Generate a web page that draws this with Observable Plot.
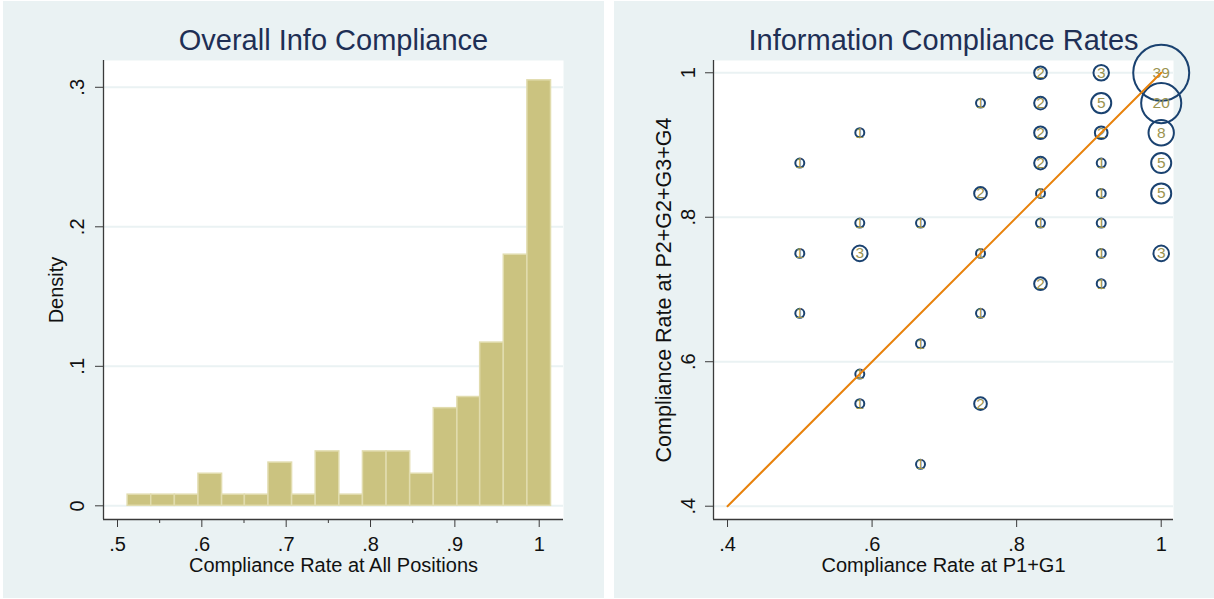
<!DOCTYPE html>
<html>
<head>
<meta charset="utf-8">
<script src="https://cdn.jsdelivr.net/npm/d3@7"></script>
<script src="https://cdn.jsdelivr.net/npm/@observablehq/plot@0.6"></script>
<style>
  html, body { margin: 0; padding: 0; background: #ffffff; }
  #wrap { position: relative; width: 1214px; height: 599px; overflow: hidden; background: #ffffff; }
  #left { position: absolute; left: 3px; top: 1px; }
  #right { position: absolute; left: 614px; top: 1px; }
  svg { display: block; }
</style>
</head>
<body>
<div id="wrap"><div id="left"></div><div id="right"></div></div>
<script>
// ---------- Left panel: histogram ----------
const histTitle = "Overall Info Compliance";
const histXLabel = "Compliance Rate at All Positions";
const histYLabel = "Density";
const binEdges = [0.512, 0.540, 0.568, 0.596, 0.624, 0.651, 0.679, 0.707, 0.735, 0.763,
                  0.791, 0.819, 0.847, 0.875, 0.903, 0.930, 0.958, 0.986, 1.014];
const density = [0.008, 0.008, 0.008, 0.023, 0.008, 0.008, 0.031, 0.008, 0.039, 0.008,
                 0.039, 0.039, 0.023, 0.070, 0.078, 0.117, 0.180, 0.305];
const histXTicks = [0.5, 0.6, 0.7, 0.8, 0.9, 1];
const histXMinor = [0.55, 0.65, 0.75, 0.85, 0.95];
const histYTicks = [0, 0.1, 0.2, 0.3];

// ---------- Right panel: weighted scatter ----------
const scatTitle = "Information Compliance Rates";
const scatXLabel = "Compliance Rate at P1+G1";
const scatYLabel = "Compliance Rate at P2+G2+G3+G4";
const p1g1 = [0.5, 0.5, 0.5,
              0.583, 0.583, 0.583, 0.583, 0.583,
              0.667, 0.667, 0.667,
              0.75, 0.75, 0.75, 0.75, 0.75,
              0.833, 0.833, 0.833, 0.833, 0.833, 0.833, 0.833,
              0.917, 0.917, 0.917, 0.917, 0.917, 0.917, 0.917, 0.917,
              1, 1, 1, 1, 1, 1];
const p2g234 = [0.875, 0.75, 0.667,
                0.917, 0.792, 0.75, 0.583, 0.542,
                0.792, 0.625, 0.458,
                0.958, 0.833, 0.75, 0.667, 0.542,
                1, 0.958, 0.917, 0.875, 0.833, 0.792, 0.708,
                1, 0.958, 0.917, 0.875, 0.833, 0.792, 0.75, 0.708,
                1, 0.958, 0.917, 0.875, 0.833, 0.75];
const freq = [1, 1, 1,
              1, 1, 3, 1, 1,
              1, 1, 1,
              1, 2, 1, 1, 2,
              2, 2, 2, 2, 1, 1, 2,
              3, 5, 2, 1, 1, 1, 1, 1,
              39, 20, 8, 5, 5, 3];
const diagX = [0.4, 1];
const diagY = [0.4, 1];
const scatXTicks = [0.4, 0.6, 0.8, 1];
const scatYTicks = [0.4, 0.6, 0.8, 1];

// ---------- helpers ----------
const stataFmt = d => String(+d.toFixed(2)).replace(/^0\./, ".");
const FONT = "'Liberation Sans', Arial, sans-serif";
const BG = "#eaf2f3";
const AXIS = "#3a3a3a";
const TITLE_COLOR = "#1e2f55";
const TICK_FS = 20, LABEL_FS = 20, TITLE_FS = 29;

const bins = density.map((d, i) => ({x1: binEdges[i], x2: binEdges[i + 1], d}));

const histXDomain = [0.4834, 1.0288];
const histYDomain = [-0.0098, 0.3192];

const left = Plot.plot({
  width: 601, height: 597,
  marginLeft: 100, marginRight: 41, marginTop: 59, marginBottom: 79,
  style: {background: BG, fontFamily: FONT, color: "#111"},
  x: {domain: histXDomain},
  y: {domain: histYDomain},
  marks: [
    Plot.frame({fill: "white", stroke: null}),
    Plot.gridY(histYTicks, {stroke: BG, strokeOpacity: 1, strokeWidth: 2}),
    Plot.rectY(bins, {x1: "x1", x2: "x2", y: "d", fill: "#cbc380", stroke: "#e1dcae", strokeWidth: 1.5, inset: 0}),
    Plot.ruleX([histXDomain[0]], {stroke: AXIS, strokeWidth: 1.3}),
    Plot.ruleY([histYDomain[0]], {stroke: AXIS, strokeWidth: 1.3}),
    Plot.axisY(histYTicks, {tickSize: 8, stroke: AXIS, tickFormat: () => "", label: null}),
    Plot.axisX(histXTicks, {tickSize: 8, stroke: AXIS, tickFormat: () => "", label: null}),
    Plot.axisX(histXMinor, {tickSize: 4, stroke: AXIS, tickFormat: () => "", label: null}),
    Plot.text(histYTicks, {y: d => d, text: stataFmt, frameAnchor: "left", dx: -26, rotate: -90,
      textAnchor: "middle", lineAnchor: "middle", fontSize: TICK_FS, fill: "#111"}),
    Plot.text(histXTicks, {x: d => d, text: stataFmt, frameAnchor: "bottom", dy: 25,
      textAnchor: "middle", lineAnchor: "middle", fontSize: TICK_FS, fill: "#111"}),
    Plot.text([histXLabel], {text: d => d, frameAnchor: "bottom", dy: 46, textAnchor: "middle", lineAnchor: "middle", fontSize: LABEL_FS, fill: "#111"}),
    Plot.text([histYLabel], {text: d => d, frameAnchor: "left", dx: -47, rotate: -90, textAnchor: "middle", lineAnchor: "middle", fontSize: LABEL_FS, fill: "#111"}),
    Plot.text([histTitle], {text: d => d, frameAnchor: "top", dy: -20, textAnchor: "middle", lineAnchor: "middle", fontSize: TITLE_FS, fill: TITLE_COLOR})
  ]
});
document.getElementById("left").appendChild(left);

const pts = freq.map((n, i) => ({x: p1g1[i], y: p2g234[i], n}));
const diag = diagX.map((x, i) => ({x, y: diagY[i]}));

const scatXDomain = [0.3806, 1.017];
const scatYDomain = [0.3816, 1.017];

const right = Plot.plot({
  width: 600, height: 597,
  marginLeft: 99, marginRight: 41, marginTop: 59, marginBottom: 79,
  style: {background: BG, fontFamily: FONT, color: "#111"},
  x: {domain: scatXDomain},
  y: {domain: scatYDomain},
  r: {domain: [0, 39], range: [0, 28]},
  marks: [
    Plot.frame({fill: "white", stroke: null}),
    Plot.gridY(scatYTicks, {stroke: BG, strokeOpacity: 1, strokeWidth: 2}),
    Plot.dot(pts, {x: "x", y: "y", r: "n", stroke: "#1a4270", strokeWidth: 2, fill: "none"}),
    Plot.text(pts, {x: "x", y: "y", text: "n", fill: "#9b9350", fontSize: 15.5, lineAnchor: "middle"}),
    Plot.line(diag, {x: "x", y: "y", stroke: "#e8820c", strokeWidth: 2}),
    Plot.ruleX([scatXDomain[0]], {stroke: AXIS, strokeWidth: 1.3}),
    Plot.ruleY([scatYDomain[0]], {stroke: AXIS, strokeWidth: 1.3}),
    Plot.axisY(scatYTicks, {tickSize: 8, stroke: AXIS, tickFormat: () => "", label: null}),
    Plot.axisX(scatXTicks, {tickSize: 8, stroke: AXIS, tickFormat: () => "", label: null}),
    Plot.text(scatYTicks, {y: d => d, text: stataFmt, frameAnchor: "left", dx: -25, rotate: -90,
      textAnchor: "middle", lineAnchor: "middle", fontSize: TICK_FS, fill: "#111"}),
    Plot.text(scatXTicks, {x: d => d, text: stataFmt, frameAnchor: "bottom", dy: 25,
      textAnchor: "middle", lineAnchor: "middle", fontSize: TICK_FS, fill: "#111"}),
    Plot.text([scatXLabel], {text: d => d, frameAnchor: "bottom", dy: 46, textAnchor: "middle", lineAnchor: "middle", fontSize: LABEL_FS, fill: "#111"}),
    Plot.text([scatYLabel], {text: d => d, frameAnchor: "left", dx: -49, rotate: -90, textAnchor: "middle", lineAnchor: "middle", fontSize: 21.5, fill: "#111"}),
    Plot.text([scatTitle], {text: d => d, frameAnchor: "top", dy: -20, textAnchor: "middle", lineAnchor: "middle", fontSize: TITLE_FS, fill: TITLE_COLOR})
  ]
});
document.getElementById("right").appendChild(right);
</script>
</body>
</html>
